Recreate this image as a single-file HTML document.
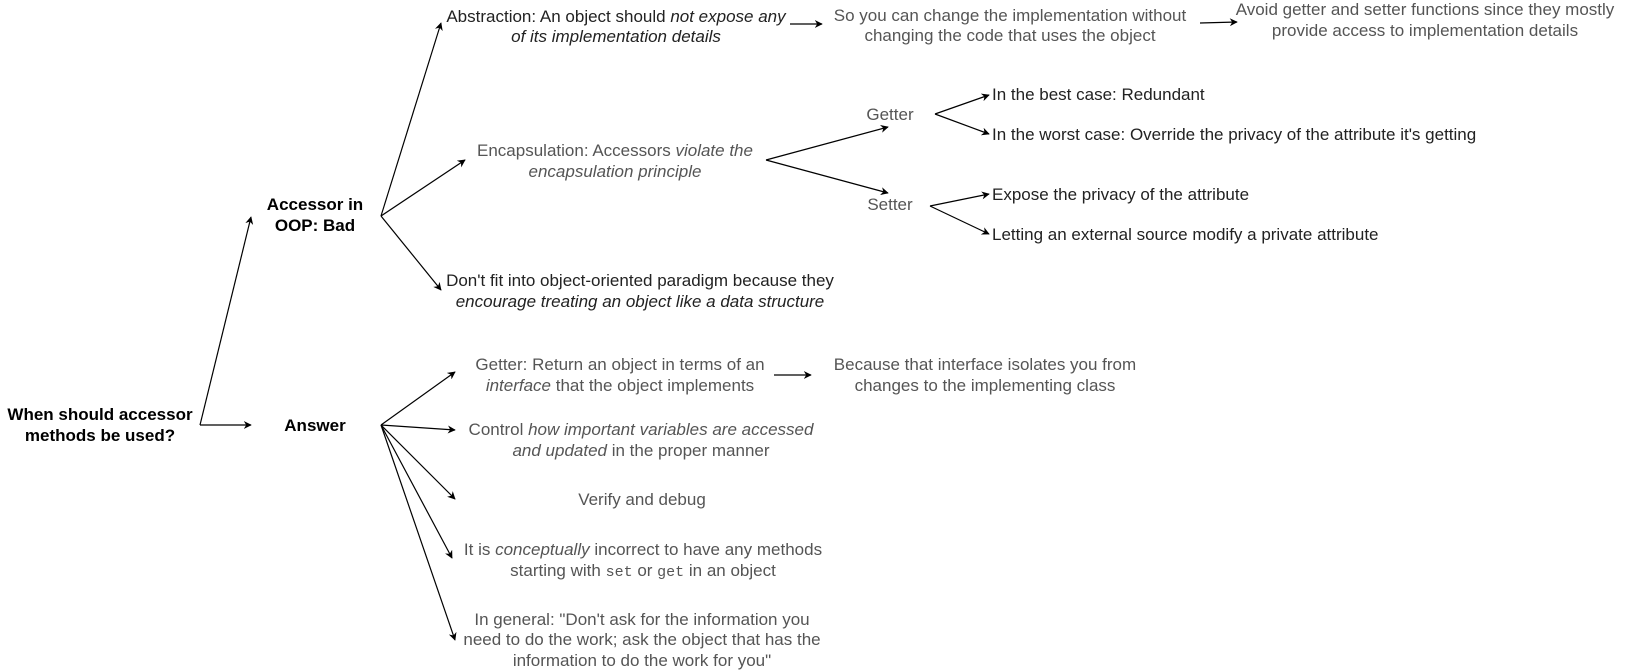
<!DOCTYPE html>
<html><head><meta charset="utf-8"><style>
html,body{margin:0;padding:0;background:#fff;}
svg{display:block;}
text{font-family:"Liberation Sans",Arial,sans-serif;font-size:17px;}
.b{font-weight:bold;fill:#000;}
.k{fill:#222;}
.g{fill:#555;}
.m{font-family:"Liberation Mono",monospace;font-size:15px;}
</style></head><body>
<svg width="1636" height="671" viewBox="0 0 1636 671" xmlns="http://www.w3.org/2000/svg">
<defs>
<marker id="a" viewBox="0 0 10 10" refX="9" refY="5" markerWidth="8" markerHeight="8" markerUnits="userSpaceOnUse" orient="auto">
<path d="M0,0 L10,5 L0,10 L3,5 Z" fill="#000"/>
</marker>
</defs>
<g stroke="#000" stroke-width="1.2" fill="none" marker-end="url(#a)">
<path d="M200,425 L251,217"/>
<path d="M200,425 L251,425"/>
<path d="M381,216 L441,23"/>
<path d="M381,216 L465,160"/>
<path d="M381,216 L441,290"/>
<path d="M790,24 L822,24"/>
<path d="M1200,23 L1237,22"/>
<path d="M766,160 L888,127"/>
<path d="M766,160 L888,193"/>
<path d="M935,114 L989,95"/>
<path d="M935,114 L989,134"/>
<path d="M930,206 L989,194"/>
<path d="M930,206 L989,234"/>
<path d="M381,425 L455,372"/>
<path d="M381,425 L455,430"/>
<path d="M381,425 L455,499"/>
<path d="M381,425 L452,558"/>
<path d="M381,425 L455,640"/>
<path d="M774,375 L811,375"/>
</g>
<g text-anchor="middle">
<text class="b" x="100" y="420">When should accessor</text>
<text class="b" x="100" y="441">methods be used?</text>
<text class="b" x="315" y="210">Accessor in</text>
<text class="b" x="315" y="231">OOP: Bad</text>
<text class="b" x="315" y="431">Answer</text>

<text class="k" x="616" y="22">Abstraction: An object should <tspan font-style="italic">not expose any</tspan></text>
<text class="k" x="616" y="42" font-style="italic">of its implementation details</text>
<text class="g" x="1010" y="21">So you can change the implementation without</text>
<text class="g" x="1010" y="41">changing the code that uses the object</text>
<text class="g" x="1425" y="15">Avoid getter and setter functions since they mostly</text>
<text class="g" x="1425" y="36">provide access to implementation details</text>

<text class="g" x="615" y="156">Encapsulation: Accessors <tspan font-style="italic">violate the</tspan></text>
<text class="g" x="615" y="177" font-style="italic">encapsulation principle</text>
<text class="g" x="890" y="120">Getter</text>
<text class="g" x="890" y="210">Setter</text>

<text class="k" x="640" y="286">Don't fit into object-oriented paradigm because they</text>
<text class="k" x="640" y="307" font-style="italic">encourage treating an object like a data structure</text>

<text class="g" x="620" y="370">Getter: Return an object in terms of an</text>
<text class="g" x="620" y="391"><tspan font-style="italic">interface</tspan> that the object implements</text>
<text class="g" x="985" y="370">Because that interface isolates you from</text>
<text class="g" x="985" y="391">changes to the implementing class</text>
<text class="g" x="641" y="435">Control <tspan font-style="italic">how important variables are accessed</tspan></text>
<text class="g" x="641" y="456"><tspan font-style="italic">and updated</tspan> in the proper manner</text>
<text class="g" x="642" y="505">Verify and debug</text>
<text class="g" x="643" y="555">It is <tspan font-style="italic">conceptually</tspan> incorrect to have any methods</text>
<text class="g" x="643" y="576">starting with <tspan class="m">set</tspan>  or <tspan class="m">get</tspan> in an object</text>
<text class="g" x="642" y="625">In general: "Don't ask for the information you</text>
<text class="g" x="642" y="645">need to do the work; ask the object that has the</text>
<text class="g" x="642" y="666">information to do the work for you"</text>
</g>
<g>
<text class="k" x="992" y="100">In the best case: Redundant</text>
<text class="k" x="992" y="140">In the worst case: Override the privacy of the attribute it's getting</text>
<text class="k" x="992" y="200">Expose the privacy of the attribute</text>
<text class="k" x="992" y="240">Letting an external source modify a private attribute</text>
</g>
</svg>
</body></html>
